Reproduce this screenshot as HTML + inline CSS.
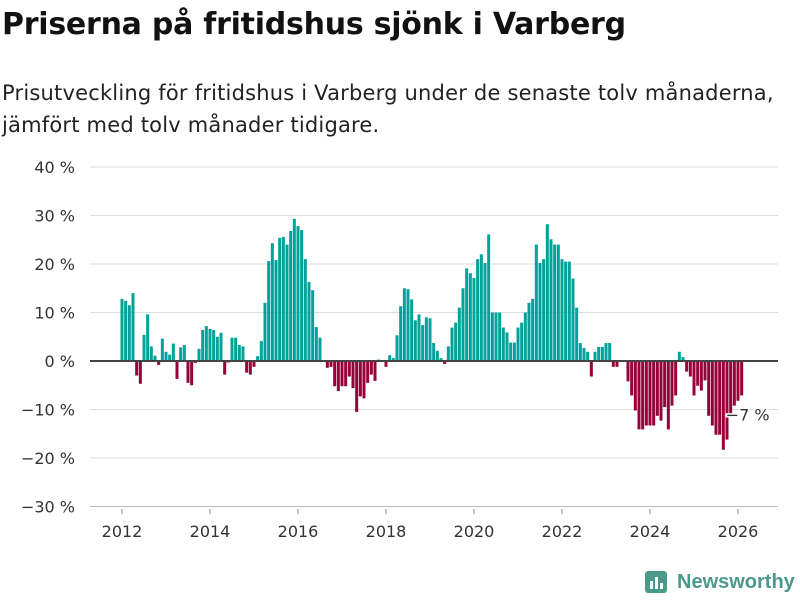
<!DOCTYPE html>
<html><head><meta charset="utf-8"><style>
body{margin:0;width:800px;height:600px;background:#fff;font-family:"Liberation Sans","DejaVu Sans",sans-serif;overflow:hidden;position:relative}
h1{position:absolute;left:2px;top:7px;margin:0;font-size:30px;font-weight:bold;color:#111;font-family:"DejaVu Sans","Liberation Sans",sans-serif;letter-spacing:-0.25px}
.sub{position:absolute;left:2px;top:77px;margin:0;font-size:21px;line-height:32px;color:#222;font-family:"DejaVu Sans","Liberation Sans",sans-serif;letter-spacing:0.2px}
</style></head><body>
<h1>Priserna på fritidshus sjönk i Varberg</h1>
<p class="sub">Prisutveckling för fritidshus i Varberg under de senaste tolv månaderna,<br>jämfört med tolv månader tidigare.</p>
<svg id="chart" width="800" height="600" style="position:absolute;left:0;top:0"></svg>
<div style="position:absolute;left:645px;top:569px;font-size:20px;font-weight:bold;color:#4a9a8c;font-family:'Liberation Sans',sans-serif;display:flex;align-items:center;white-space:nowrap">
<svg width="24" height="26" style="margin-right:8px"><rect x="0" y="2" width="22" height="22" rx="3" fill="#4a9a8c"/><rect x="5" y="12" width="3" height="8" fill="#fff"/><rect x="10" y="8" width="3" height="12" fill="#fff"/><rect x="15" y="14" width="3" height="6" fill="#fff"/></svg>Newsworthy</div>
<script>
const yTicks=[40,30,20,10,0,-10,-20,-30];
const xYears=[2012,2014,2016,2018,2020,2022,2024,2026];
const values=[12.8,12.4,11.5,14,-3,-4.7,5.4,9.6,3,1.1,-0.8,4.6,1.9,1.3,3.6,-3.7,2.8,3.3,-4.5,-5,-0.4,2.5,6.4,7.2,6.6,6.4,5,5.8,-2.8,-0.3,4.8,4.8,3.3,3,-2.4,-2.8,-1.2,1,4.1,12,20.6,24.3,20.8,25.4,25.6,24,26.8,29.3,27.8,27,21,16.3,14.6,7,4.8,0,-1.4,-1.2,-5.2,-6.2,-5.2,-5.2,-3.2,-5.6,-10.5,-7.3,-7.7,-4.5,-2.8,-4.1,0.3,0,-1.2,1.2,0.6,5.3,11.3,15,14.8,12.7,8.4,9.6,7.4,9,8.8,3.7,2.1,0.6,-0.6,3,6.9,7.9,11,15,19.1,18.1,17.1,21,22,20.2,26.1,10,10,10,6.9,5.9,3.8,3.8,6.9,7.9,10,12,12.8,24,20.2,21,28.2,25.1,24,24,21,20.5,20.5,17,11,3.7,2.7,1.9,-3.2,1.9,2.9,2.9,3.7,3.7,-1.2,-1.2,0,0,-4.2,-7.1,-10.2,-14.1,-14.1,-13.3,-13.3,-13.3,-11.3,-12.3,-9.5,-14.1,-9.2,-7.1,1.9,0.8,-2.2,-3.2,-7.1,-5.1,-6.1,-4,-11.3,-13.3,-15.2,-15.2,-18.3,-16.2,-11.3,-9.2,-8.2,-7.1];
const startYear=2012;
const NS='http://www.w3.org/2000/svg';
const svg=document.getElementById('chart');
const y=v=>361-v*4.85;
const x=m=>122+m*44/12;
function mk(t,a,txt){const e=document.createElementNS(NS,t);for(const k in a)e.setAttribute(k,a[k]);if(txt!=null)e.textContent=txt;svg.appendChild(e);return e;}
yTicks.forEach(t=>{
 if(t!==0){const g=mk('line',{x1:90,x2:778,y1:y(t),y2:y(t),stroke:t===-30?'#bbb':'#ddd','stroke-width':1});
 
 }
 const l=mk('text',{x:75,y:y(t)+6,'text-anchor':'end','font-size':16,fill:'#333','font-family':'DejaVu Sans, sans-serif'},(t<0?'\u2212'+(-t):t)+' %');
 
 
});
xYears.forEach(yr=>{
 const px=x((yr-startYear)*12);
 const tk=mk('line',{x1:px,x2:px,y1:509,y2:514,stroke:'#888'});
 
 
 const l=mk('text',{x:px,y:537,'text-anchor':'middle','font-size':16,fill:'#333','font-family':'DejaVu Sans, sans-serif'},yr);
 
 
});
values.forEach((v,i)=>{
 if(v===0)return;
 const r=mk('rect',{x:x(i)-1.5,width:3,y:Math.min(y(v),y(0)),height:Math.abs(y(v)-y(0)),fill:v>=0?'#00a39a':'#970038'});
 
 
});
const z=mk('line',{x1:90,x2:778,y1:y(0),y2:y(0),stroke:'#444','stroke-width':2});


const last=values[values.length-1];
const lx=x(values.length-1);
const lbl=mk('text',{x:lx-16,y:y(last)+25,'font-size':16,fill:'#333','font-family':'DejaVu Sans, sans-serif',stroke:'#fff','stroke-width':3,'paint-order':'stroke'},'\u2212'+Math.round(-last)+' %');


</script>
</body></html>
